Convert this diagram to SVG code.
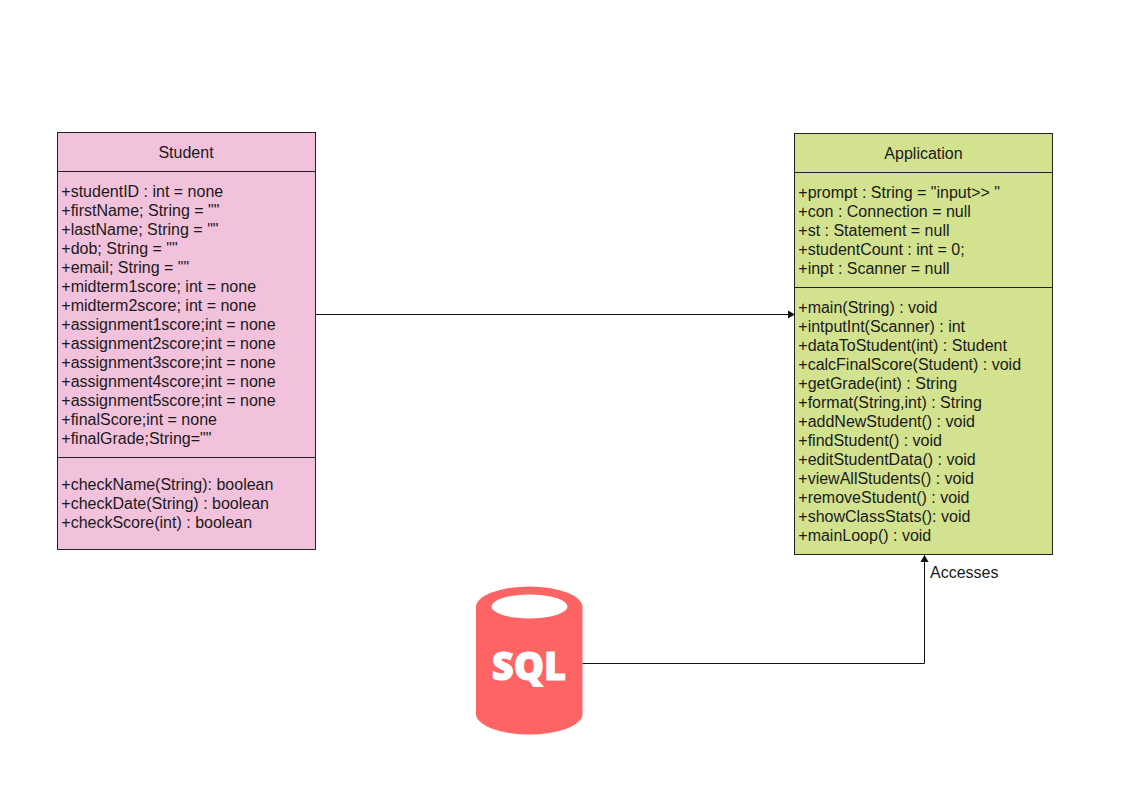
<svg xmlns="http://www.w3.org/2000/svg" width="1122" height="793" viewBox="0 0 1122 793">
<style>
text{font-family:"Liberation Sans",Arial,sans-serif;font-size:16px;fill:#1a1a1a}
.box{stroke:#222;stroke-width:1}
.pink{fill:#f2c1dc}
.green{fill:#d3e28f}
.div{stroke:#222;stroke-width:1;fill:none}
.conn{stroke:#111;stroke-width:1;fill:none;marker-end:url(#arrow)}
</style>
<defs>
<marker id="arrow" markerUnits="userSpaceOnUse" markerWidth="8" markerHeight="9" refX="7" refY="4.500" orient="auto"><path d="M0 0.500L7 4.500L0 8.500Z" fill="#111"/></marker>
</defs>
<rect width="1122" height="793" fill="#fff"/>
<g id="student">
<rect class="box pink" x="57.500" y="132.500" width="258" height="417"/>
<path class="div" d="M57.500 171.500H315.500M57.500 457.500H315.500"/>
<text x="186" y="158" text-anchor="middle">Student</text>
<text x="61.300" y="197">+studentID : int = none</text>
<text x="61.300" y="216">+firstName; String = ""</text>
<text x="61.300" y="235">+lastName; String = ""</text>
<text x="61.300" y="254">+dob; String = ""</text>
<text x="61.300" y="273">+email; String = ""</text>
<text x="61.300" y="292">+midterm1score; int = none</text>
<text x="61.300" y="311">+midterm2score; int = none</text>
<text x="61.300" y="330">+assignment1score;int = none</text>
<text x="61.300" y="349">+assignment2score;int = none</text>
<text x="61.300" y="368">+assignment3score;int = none</text>
<text x="61.300" y="387">+assignment4score;int = none</text>
<text x="61.300" y="406">+assignment5score;int = none</text>
<text x="61.300" y="425">+finalScore;int = none</text>
<text x="61.300" y="444">+finalGrade;String=""</text>
<text x="61.300" y="490">+checkName(String): boolean</text>
<text x="61.300" y="509">+checkDate(String) : boolean</text>
<text x="61.300" y="528">+checkScore(int) : boolean</text>
</g>
<g id="application">
<rect class="box green" x="794.500" y="133.500" width="258" height="421"/>
<path class="div" d="M794.500 172.500H1052.500M794.500 287.500H1052.500"/>
<text x="923.500" y="159" text-anchor="middle">Application</text>
<text x="798.300" y="198">+prompt : String = "input&gt;&gt; "</text>
<text x="798.300" y="217">+con : Connection = null</text>
<text x="798.300" y="236">+st : Statement = null</text>
<text x="798.300" y="255">+studentCount : int = 0;</text>
<text x="798.300" y="274">+inpt : Scanner = null</text>
<text x="798.300" y="313">+main(String) : void</text>
<text x="798.300" y="332">+intputInt(Scanner) : int</text>
<text x="798.300" y="351">+dataToStudent(int) : Student</text>
<text x="798.300" y="370">+calcFinalScore(Student) : void</text>
<text x="798.300" y="389">+getGrade(int) : String</text>
<text x="798.300" y="408">+format(String,int) : String</text>
<text x="798.300" y="427">+addNewStudent() : void</text>
<text x="798.300" y="446">+findStudent() : void</text>
<text x="798.300" y="465">+editStudentData() : void</text>
<text x="798.300" y="484">+viewAllStudents() : void</text>
<text x="798.300" y="503">+removeStudent() : void</text>
<text x="798.300" y="522">+showClassStats(): void</text>
<text x="798.300" y="541">+mainLoop() : void</text>
</g>
<g id="sql">
<path d="M476 607A53.250 20.500 0 0 1 582.500 607V714A53.250 20.500 0 0 1 476 714Z" fill="#ff6464"/>
<ellipse cx="529.500" cy="606.500" rx="38" ry="12" fill="#fff"/>
<text x="529" y="680" text-anchor="middle" style="font-family:'Open Sans','Noto Sans',sans-serif;font-size:38px;font-weight:800;fill:#fff;stroke:#fff;stroke-width:1">SQL</text>
</g>
<g id="connectors">
<path class="conn" d="M315.500 314.500H795"/>
<path class="conn" d="M582.500 663.500H924.500V555"/>
</g>
<text id="accesses" x="930" y="578">Accesses</text>
</svg>
